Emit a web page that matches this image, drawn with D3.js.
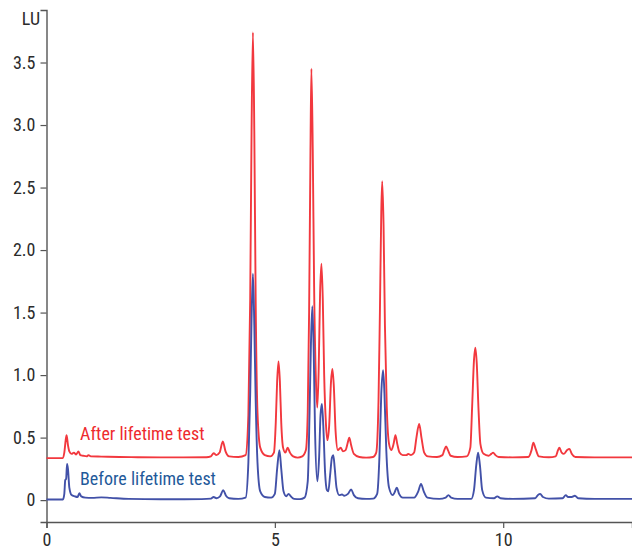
<!DOCTYPE html>
<html>
<head>
<meta charset="utf-8">
<script src="https://cdnjs.cloudflare.com/ajax/libs/d3/7.8.5/d3.min.js"></script>
<style>
  body { margin: 0; background: #fff; }
  svg text { font-family: "Liberation Sans Narrow", "Arial Narrow", "Roboto Condensed", "Liberation Sans", sans-serif; }
</style>
</head>
<body>
<svg id="chart" width="632" height="550"></svg>
<script>

// retention time (min) and signal (LU), after lifetime test
var afterTime = [0, 0.35, 0.39, 0.42, 0.44, 0.47, 0.5, 0.55, 0.6, 0.65, 0.7, 0.74, 0.8, 0.88, 0.92, 0.97,
    1.2, 1.6, 2.0, 2.5, 3.0, 3.5, 3.6, 3.66, 3.72, 3.79, 3.86, 3.92, 4.0, 4.2,
    4.36, 4.42, 4.46, 4.49, 4.52, 4.55, 4.58, 4.62, 4.68, 4.78, 4.9,
    4.98, 5.02, 5.05, 5.08, 5.11, 5.14, 5.18, 5.23, 5.28, 5.33, 5.4, 5.5, 5.6,
    5.68, 5.72, 5.75, 5.78, 5.8, 5.83, 5.86, 5.9, 5.93, 5.96, 5.99, 6.02, 6.05, 6.08, 6.12, 6.15,
    6.19, 6.23, 6.26, 6.29, 6.33, 6.38, 6.44, 6.49, 6.55, 6.59, 6.63, 6.67, 6.73, 6.85, 7.0, 7.15,
    7.22, 7.27, 7.3, 7.33, 7.35, 7.38, 7.41, 7.45, 7.5, 7.55, 7.6, 7.64, 7.68, 7.73, 7.8, 7.88, 7.92, 7.98,
    8.05, 8.1, 8.16, 8.21, 8.27, 8.35, 8.55, 8.67, 8.71, 8.75, 8.79, 8.85, 9.0, 9.2,
    9.28, 9.32, 9.36, 9.39, 9.42, 9.46, 9.5, 9.57, 9.68, 9.74, 9.78, 9.83, 9.9, 10.2,
    10.55, 10.62, 10.66, 10.71, 10.78, 11.0, 11.15, 11.2, 11.23, 11.28, 11.33, 11.4, 11.45, 11.5, 11.58, 12.0, 12.82];
var afterLU = [0.336, 0.336, 0.38, 0.48, 0.52, 0.44, 0.39, 0.37, 0.38, 0.365, 0.39, 0.36, 0.355, 0.35, 0.36, 0.35,
    0.348, 0.345, 0.343, 0.342, 0.342, 0.343, 0.35, 0.375, 0.36, 0.38, 0.47, 0.39, 0.35, 0.345,
    0.36, 0.68, 1.6, 2.95, 3.74, 2.95, 1.6, 0.7, 0.42, 0.36, 0.35,
    0.38, 0.62, 0.95, 1.11, 0.95, 0.62, 0.42, 0.38, 0.42, 0.38, 0.35, 0.34, 0.35,
    0.4, 0.7, 1.5, 2.8, 3.45, 2.8, 1.7, 0.95, 0.74, 1.05, 1.65, 1.89, 1.6, 1.0, 0.6, 0.48,
    0.6, 0.95, 1.05, 0.92, 0.55, 0.4, 0.42, 0.39, 0.4, 0.45, 0.5, 0.44, 0.37, 0.345, 0.34, 0.345,
    0.38, 0.8, 1.5, 2.3, 2.55, 2.2, 1.4, 0.75, 0.45, 0.4, 0.45, 0.52, 0.45, 0.38, 0.36, 0.36, 0.37, 0.36,
    0.38, 0.5, 0.61, 0.5, 0.38, 0.35, 0.345, 0.36, 0.4, 0.43, 0.4, 0.355, 0.345, 0.35,
    0.42, 0.75, 1.12, 1.22, 1.1, 0.72, 0.45, 0.37, 0.355, 0.37, 0.38, 0.36, 0.345, 0.342,
    0.345, 0.4, 0.46, 0.41, 0.35, 0.343, 0.35, 0.4, 0.42, 0.38, 0.37, 0.4, 0.41, 0.37, 0.345, 0.342, 0.342];

// retention time (min) and signal (LU), before lifetime test
var beforeTime = [0, 0.36, 0.39, 0.41, 0.43, 0.45, 0.47, 0.5, 0.55, 0.62, 0.68, 0.72, 0.76, 0.85,
    1.0, 1.2, 1.4, 1.8, 2.5, 3.4, 3.6, 3.66, 3.72, 3.8, 3.87, 3.93, 4.0, 4.2,
    4.36, 4.42, 4.46, 4.49, 4.52, 4.55, 4.58, 4.62, 4.68, 4.78, 4.92,
    5.0, 5.05, 5.1, 5.14, 5.19, 5.25, 5.3, 5.35, 5.42, 5.55,
    5.65, 5.72, 5.76, 5.79, 5.82, 5.85, 5.88, 5.93, 5.97, 6.0, 6.03, 6.06, 6.1, 6.14, 6.17,
    6.21, 6.25, 6.28, 6.31, 6.35, 6.41, 6.47, 6.52, 6.6, 6.67, 6.73, 6.82, 7.0, 7.15,
    7.24, 7.29, 7.33, 7.37, 7.4, 7.44, 7.5, 7.58, 7.62, 7.67, 7.72, 7.8, 7.92, 8.05,
    8.14, 8.2, 8.26, 8.34, 8.6, 8.74, 8.8, 8.86, 9.0, 9.3,
    9.36, 9.41, 9.45, 9.49, 9.54, 9.62, 9.8, 9.87, 9.94, 10.2,
    10.7, 10.76, 10.81, 10.87, 11.0, 11.3, 11.37, 11.42, 11.5, 11.57, 11.64, 12.0, 12.82];
var beforeLU = [0.005, 0.005, 0.05, 0.16, 0.17, 0.29, 0.25, 0.1, 0.04, 0.03, 0.025, 0.055, 0.03, 0.02,
    0.018, 0.022, 0.018, 0.01, 0.007, 0.008, 0.012, 0.025, 0.015, 0.03, 0.08, 0.035, 0.015, 0.01,
    0.02, 0.3, 0.85, 1.45, 1.81, 1.4, 0.8, 0.3, 0.07, 0.025, 0.02,
    0.05, 0.25, 0.4, 0.25, 0.07, 0.03, 0.05, 0.03, 0.01, 0.008,
    0.02, 0.15, 0.7, 1.25, 1.55, 1.2, 0.55, 0.15, 0.35, 0.68, 0.77, 0.6, 0.22, 0.08, 0.07,
    0.2, 0.34, 0.36, 0.26, 0.1, 0.04, 0.045, 0.035, 0.05, 0.085, 0.04, 0.015, 0.01, 0.012,
    0.05, 0.35, 0.85, 1.04, 0.85, 0.4, 0.1, 0.04, 0.06, 0.1, 0.05, 0.02, 0.02, 0.02,
    0.07, 0.13, 0.07, 0.02, 0.01, 0.02, 0.04, 0.02, 0.01, 0.01,
    0.08, 0.28, 0.38, 0.28, 0.08, 0.02, 0.015, 0.03, 0.015, 0.01,
    0.015, 0.04, 0.05, 0.025, 0.012, 0.015, 0.04, 0.025, 0.025, 0.035, 0.015, 0.01, 0.01];

var xTicks = [0, 5, 10];
var yTicks = [0, 0.5, 1.0, 1.5, 2.0, 2.5, 3.0, 3.5];

var svg = d3.select("#chart");

var x = d3.scaleLinear().domain([0, 12.82]).range([46.5, 632]);
var y = d3.scaleLinear().domain([-0.175, 3.92]).range([522, 10]);

var axisColor = "#555";
var textColor = "#2b2b2b";

// y axis
var yAxis = svg.append("g")
    .attr("transform", "translate(46.5,0)")
    .call(d3.axisLeft(y).tickValues(yTicks).tickSize(6).tickPadding(5)
        .tickFormat(function(d) { return d === 0 ? "0" : d3.format(".1f")(d); }));

// x axis
var xAxis = svg.append("g")
    .attr("transform", "translate(0,522)")
    .call(d3.axisBottom(x).tickValues(xTicks).tickSize(6).tickPadding(5)
        .tickFormat(d3.format("d")));

[yAxis, xAxis].forEach(function(g) {
    g.select(".domain").attr("stroke", axisColor).attr("stroke-width", 1.4);
    g.selectAll(".tick line").attr("stroke", axisColor).attr("stroke-width", 1.2);
    g.selectAll(".tick text").attr("fill", textColor).style("font-size", "18px");
});

svg.append("text")
    .attr("x", 40)
    .attr("y", 25)
    .attr("text-anchor", "end")
    .attr("fill", textColor)
    .style("font-size", "18px")
    .text("LU");

var line = d3.line()
    .x(function(d) { return x(d[0]); })
    .y(function(d) { return y(d[1]); })
    .curve(d3.curveMonotoneX);

var before = d3.zip(beforeTime, beforeLU);
var after = d3.zip(afterTime, afterLU);

svg.append("path")
    .datum(after)
    .attr("fill", "none")
    .attr("stroke", "#f2383e")
    .attr("stroke-width", 1.9)
    .attr("stroke-linejoin", "round")
    .attr("d", line);

svg.append("path")
    .datum(before)
    .attr("fill", "none")
    .attr("stroke", "#4251a8")
    .attr("stroke-width", 1.9)
    .attr("stroke-linejoin", "round")
    .attr("d", line);

// labels
svg.append("text")
    .attr("x", 80)
    .attr("y", 440)
    .attr("fill", "#ee2a2e")
    .style("font-size", "18px")
    .text("After lifetime test");

svg.append("text")
    .attr("x", 80)
    .attr("y", 485)
    .attr("fill", "#1f5a9a")
    .style("font-size", "18px")
    .text("Before lifetime test");

</script>
</body>
</html>
